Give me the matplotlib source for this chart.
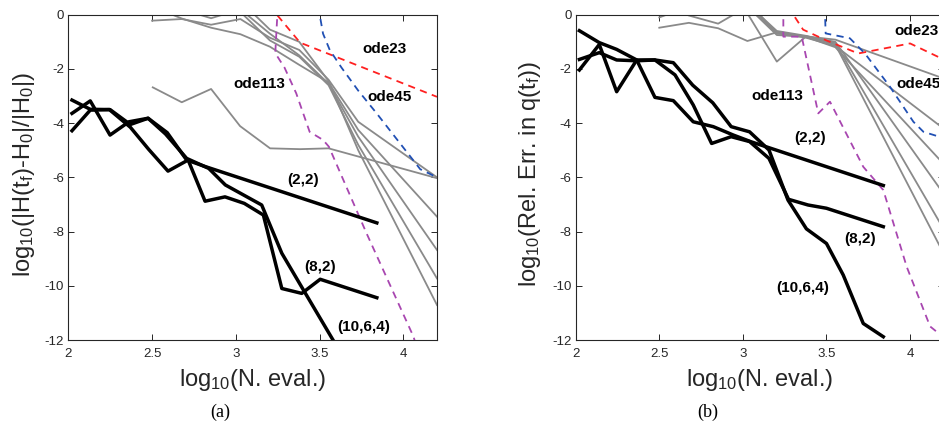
import numpy as np
import matplotlib
matplotlib.use("Agg")
import matplotlib.pyplot as plt

plt.rcParams['font.family'] = ['Liberation Sans', 'DejaVu Sans']
plt.rcParams['mathtext.fontset'] = 'custom'
plt.rcParams['mathtext.rm'] = 'Liberation Sans'
plt.rcParams['mathtext.it'] = 'Liberation Sans:italic'
plt.rcParams['axes.unicode_minus'] = False

# ---------------- panel (a): energy error ----------------
a22_x = [2.022, 2.131, 2.249, 2.362, 2.476, 2.59, 2.706, 2.816, 3.841]
a22_y = [-3.64, -3.18, -4.44, -3.95, -3.82, -4.35, -5.36, -5.6, -7.68]
a82_x = [2.022, 2.131, 2.245, 2.37, 2.48, 2.595, 2.715, 2.816, 2.935, 3.05, 3.164, 3.274, 3.393, 3.503, 3.841]
a82_y = [-3.15, -3.49, -3.5, -4.15, -4.97, -5.77, -5.36, -6.88, -6.72, -6.96, -7.39, -10.1, -10.28, -9.76, -10.44]
a1064_x = [2.022, 2.131, 2.249, 2.37, 2.476, 2.58, 2.706, 2.838, 2.937, 3.154, 3.274, 3.393, 3.503, 3.613]
a1064_y = [-4.28, -3.52, -3.5, -4.05, -3.82, -4.4, -5.3, -5.67, -6.28, -7.02, -8.8, -10.05, -11.2, -12.35]

grid_x = [2.5, 2.677, 2.852, 3.027, 3.203, 3.378, 3.553, 3.73, 4.2]
a_gray_low_x = [2.504, 2.677, 2.852, 3.025, 3.204, 3.383, 3.553, 4.2]
a_gray_low_y = [-2.68, -3.23, -2.74, -4.11, -4.93, -4.96, -4.93, -6.03]
a_gray_y = [
    [-0.22, -0.16, -0.37, -0.16, -0.85, -1.3, -2.4, -3.95, -6.0],
    [0.3, -0.14, -0.48, -0.72, -1.18, -1.85, -2.5, -4.25, -7.45],
    [0.6, 0.2, -0.13, 0.2, -0.7, -1.5, -2.55, -4.5, -8.68],
    [1.2, 1.0, 0.8, 0.1, -0.95, -1.55, -2.6, -4.8, -9.73],
    [1.4, 1.2, 1.0, 0.5, -0.55, -1.0, -2.45, -5.0, -10.71],
]
a_ode23_x = [3.2, 3.383, 4.2]
a_ode23_y = [0.33, -1.03, -3.03]
a_ode45_x = [3.49, 3.50, 3.52, 3.56, 3.63, 3.73, 3.84, 3.98, 4.1, 4.2]
a_ode45_y = [0.3, 0.0, -0.7, -1.3, -1.95, -2.8, -3.64, -4.75, -5.7, -6.0]
a_ode113_x = [3.25, 3.235, 3.29, 3.36, 3.44, 3.52, 3.555, 3.78, 4.06, 4.08]
a_ode113_y = [0.3, -1.42, -1.95, -2.9, -4.32, -4.62, -4.87, -8.07, -11.88, -12.3]

# ---------------- panel (b): error in q ----------------
b22_x = [2.022, 2.141, 2.245, 2.365, 2.474, 2.584, 2.703, 2.823, 2.943, 3.05, 3.84]
b22_y = [-0.59, -1.03, -1.28, -1.67, -3.05, -3.17, -3.95, -4.13, -4.44, -4.69, -6.3]
b82_x = [2.022, 2.141, 2.245, 2.365, 2.474, 2.594, 2.703, 2.813, 2.93, 3.04, 3.156, 3.273, 3.39, 3.5, 3.84]
b82_y = [-2.04, -1.1, -2.84, -1.67, -1.67, -2.22, -3.33, -4.75, -4.5, -4.68, -5.3, -6.81, -7.02, -7.14, -7.82]
b1064_x = [2.022, 2.141, 2.245, 2.365, 2.474, 2.584, 2.70, 2.82, 2.93, 3.04, 3.156, 3.27, 3.38, 3.5, 3.6, 3.72, 3.84]
b1064_y = [-1.65, -1.4, -1.67, -1.7, -1.67, -1.77, -2.6, -3.25, -4.13, -4.32, -4.99, -6.84, -7.9, -8.44, -9.6, -11.39, -11.88]

b_gray_x = [2.5, 2.677, 2.852, 3.027, 3.203, 3.378, 3.553, 4.2]
b_gray_y = [
    [-0.48, -0.3, -0.5, -0.97, -0.65, -0.8, -0.92, -2.35],
    [-0.1, 0.3, 0.2, 0.3, -0.65, -0.85, -1.15, -4.2],
    [0.5, -0.03, -0.33, 0.3, -0.75, -0.82, -1.2, -5.5],
    [1.2, 1.0, 0.5, 0.05, -1.73, -0.8, -1.0, -6.6],
    [1.4, 1.2, 1.0, 0.4, -0.6, -0.78, -1.05, -7.9],
    [1.6, 1.4, 1.2, 0.5, -0.7, -0.8, -1.1, -8.8],
]
b_ode23_x = [3.27, 3.36, 3.5, 3.69, 4.0, 4.2]
b_ode23_y = [0.3, -0.55, -0.95, -1.43, -1.06, -1.65]
b_ode45_x = [3.49, 3.495, 3.64, 3.73, 3.88, 4.02, 4.08, 4.2]
b_ode45_y = [0.3, -0.69, -0.87, -1.43, -2.66, -3.95, -4.32, -4.55]
b_ode113_x = [3.242, 3.242, 3.352, 3.451, 3.521, 3.72, 3.84, 3.98, 4.12, 4.2]
b_ode113_y = [0.3, -0.81, -0.81, -3.64, -3.21, -5.61, -6.47, -9.3, -11.5, -11.9]

GRAY = '#8a8a8a'
RED = '#ff2020'
BLUE = '#2150b4'
PURPLE = '#a846b0'
DASH = (0, (4, 3))

fig = plt.figure(figsize=(9.39, 4.4), dpi=100)
ax1 = fig.add_axes([68.3 / 939, 100 / 440, 368.7 / 939, 325.3 / 440])
ax2 = fig.add_axes([575.7 / 939, 100 / 440, 367.8 / 939, 325.3 / 440])


def style(ax):
    ax.set_xlim(2, 4.2)
    ax.set_ylim(-12, 0)
    ax.set_xticks([2, 2.5, 3, 3.5, 4])
    ax.set_xticklabels(['2', '2.5', '3', '3.5', '4'])
    ax.set_yticks([0, -2, -4, -6, -8, -10, -12])
    ax.set_yticklabels(['0', '-2', '-4', '-6', '-8', '-10', '-12'])
    ax.tick_params(direction='in', length=4, width=0.7, top=True, right=True,
                   labelsize=9.5, colors='#262626')
    ax.tick_params(axis='x', pad=6)
    ax.tick_params(axis='y', pad=3)
    for s in ax.spines.values():
        s.set_color('#262626')
        s.set_linewidth(0.8)


# panel (a)
for ys in a_gray_y:
    ax1.plot(grid_x, ys, color=GRAY, lw=1.3)
ax1.plot(a_gray_low_x, a_gray_low_y, color=GRAY, lw=1.3)
ax1.plot(a_ode23_x, a_ode23_y, color=RED, lw=1.3, ls=DASH)
ax1.plot(a_ode45_x, a_ode45_y, color=BLUE, lw=1.3, ls=DASH)
ax1.plot(a_ode113_x, a_ode113_y, color=PURPLE, lw=1.3, ls=DASH)
for xs, ys in [(a22_x, a22_y), (a82_x, a82_y), (a1064_x, a1064_y)]:
    ax1.plot(xs, ys, color='black', lw=2.5)
style(ax1)
kw = dict(fontsize=11, fontweight='bold', ha='center', va='center')
ax1.text(3.885, -1.28, 'ode23', **kw)
ax1.text(3.14, -2.56, 'ode113', **kw)
ax1.text(3.916, -3.05, 'ode45', **kw)
ax1.text(3.40, -6.1, '(2,2)', **kw)
ax1.text(3.50, -9.3, '(8,2)', **kw)
ax1.text(3.765, -11.51, '(10,6,4)', **kw)
ax1.set_xlabel(r'log$_{\mathrm{10}}$(N. eval.)', fontsize=17, color='#262626')
ax1.set_ylabel(r'log$_{\mathrm{10}}$(|H(t$_{\mathrm{f}}$)-H$_{\mathrm{0}}$|/|H$_{\mathrm{0}}$|)',
               fontsize=17, color='#262626')
ax1.xaxis.set_label_coords(0.5, -0.123)
ax1.xaxis.label.set_va('center')
ax1.yaxis.set_label_coords(-0.12, 0.51)
ax1.yaxis.label.set_va('center')

# panel (b)
for ys in b_gray_y:
    ax2.plot(b_gray_x, ys, color=GRAY, lw=1.3)
ax2.plot(b_ode23_x, b_ode23_y, color=RED, lw=1.3, ls=DASH)
ax2.plot(b_ode45_x, b_ode45_y, color=BLUE, lw=1.3, ls=DASH)
ax2.plot(b_ode113_x, b_ode113_y, color=PURPLE, lw=1.3, ls=DASH)
for xs, ys in [(b22_x, b22_y), (b82_x, b82_y), (b1064_x, b1064_y)]:
    ax2.plot(xs, ys, color='black', lw=2.5)
style(ax2)
kwl = dict(fontsize=11, fontweight='bold', ha='left', va='center')
ax2.text(3.904, -0.59, 'ode23', **kwl)
ax2.text(3.92, -2.56, 'ode45', **kwl)
ax2.text(3.206, -2.99, 'ode113', **kw)
ax2.text(3.40, -4.54, '(2,2)', **kw)
ax2.text(3.70, -8.29, '(8,2)', **kw)
ax2.text(3.36, -10.1, '(10,6,4)', **kw)
ax2.set_xlabel(r'log$_{\mathrm{10}}$(N. eval.)', fontsize=17, color='#262626')
ax2.set_ylabel(r'log$_{\mathrm{10}}$(Rel. Err. in q(t$_{\mathrm{f}}$))', fontsize=17, color='#262626')
ax2.xaxis.set_label_coords(0.5, -0.123)
ax2.xaxis.label.set_va('center')
ax2.yaxis.set_label_coords(-0.124, 0.51)
ax2.yaxis.label.set_va('center')

fig.text(220 / 939, 1 - 412 / 440, '(a)', family='Liberation Serif', fontsize=13,
         ha='center', va='center')
fig.text(708 / 939, 1 - 412 / 440, '(b)', family='Liberation Serif', fontsize=13,
         ha='center', va='center')

fig.savefig('out.png', dpi=100)
